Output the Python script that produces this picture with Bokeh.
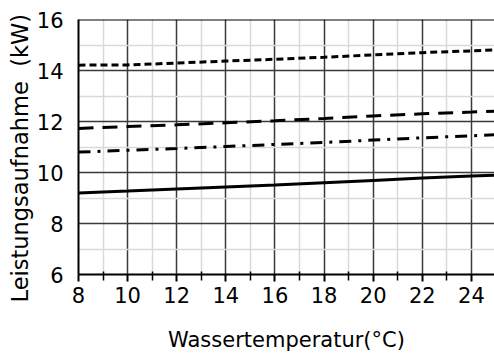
from bokeh.plotting import figure
from bokeh.models import FixedTicker, Span, Range1d, Title
from bokeh.embed import file_html
from bokeh.resources import INLINE

# ---- data ----
water_temp = [8, 10, 12, 14, 16, 18, 20, 22, 24, 25]
power_dotted = [14.21, 14.22, 14.29, 14.37, 14.44, 14.52, 14.61, 14.70, 14.77, 14.81]
power_dashed = [11.73, 11.80, 11.87, 11.95, 12.03, 12.12, 12.22, 12.30, 12.37, 12.41]
power_dashdot = [10.80, 10.87, 10.94, 11.02, 11.10, 11.18, 11.27, 11.36, 11.44, 11.48]
power_solid = [9.20, 9.27, 9.35, 9.43, 9.51, 9.60, 9.69, 9.78, 9.86, 9.90]

x_major = [8, 10, 12, 14, 16, 18, 20, 22, 24]
x_minor = [9, 11, 13, 15, 17, 19, 21, 23, 25]
y_major = [6, 8, 10, 12, 14, 16]
y_minor = [7, 9, 11, 13, 15]

x_title = "Wassertemperatur(°C)"
y_title = "Leistungsaufnahme \u00a0(kW)"

FONT = "DejaVu Sans"

p = figure(width=494, height=358, output_backend="svg", toolbar_location=None,
           x_range=Range1d(8, 24.94), y_range=Range1d(6, 16),
           min_border_left=78, min_border_right=0, min_border_top=19, min_border_bottom=84)
p.outline_line_color = None
p.background_fill_color = "white"
p.border_fill_color = "white"

# axes
p.xaxis.ticker = FixedTicker(ticks=x_major, minor_ticks=x_minor)
p.yaxis.ticker = FixedTicker(ticks=y_major, minor_ticks=y_minor)
p.xgrid.ticker = p.xaxis.ticker
p.ygrid.ticker = p.yaxis.ticker

for g in (p.xgrid, p.ygrid):
    g.grid_line_color = "#3a3a3a"
    g.grid_line_width = 1.5
    g.minor_grid_line_color = "#d9d9d9"
    g.minor_grid_line_width = 1.5

ax = p.xaxis[0]
ax.axis_line_color = "black"
ax.axis_line_width = 2
ax.major_tick_line_color = "black"
ax.major_tick_line_width = 2
ax.major_tick_in = 0
ax.major_tick_out = 7
ax.minor_tick_line_color = "black"
ax.minor_tick_line_width = 1.5
ax.minor_tick_in = 3
ax.minor_tick_out = 6
ax.major_label_text_font = FONT
ax.major_label_text_font_size = "21px"
ax.major_label_text_color = "black"
ax.major_label_standoff = 5
ax.axis_label = x_title
ax.axis_label_text_font = FONT
ax.axis_label_text_font_size = "21px"
ax.axis_label_text_font_style = "normal"
ax.axis_label_text_color = "black"
ax.axis_label_standoff = 22

ay = p.yaxis[0]
ay.axis_line_color = "black"
ay.axis_line_width = 2
ay.major_tick_line_color = None
ay.minor_tick_line_color = None
ay.major_tick_in = 0
ay.major_tick_out = 0
ay.major_label_text_font = FONT
ay.major_label_text_font_size = "21px"
ay.major_label_text_color = "black"
ay.major_label_standoff = 11

# y axis title as a left-side title, shifted down like in the reference
p.add_layout(Title(text=y_title, align="left", offset=-28, standoff=2,
                   text_font=FONT, text_font_size="22.5px", text_font_style="normal",
                   text_color="black"), "left")

# top border of the plot area
p.add_layout(Span(location=16, dimension="width", line_color="black", line_width=2))

# series
p.line(water_temp, power_dotted, line_color="black", line_width=3, line_dash="7 4")
p.line(water_temp, power_dashed, line_color="black", line_width=3, line_dash="15 9")
p.line(water_temp, power_dashdot, line_color="black", line_width=3, line_dash="12 7 3 7")
p.line(water_temp, power_solid, line_color="black", line_width=3)

open("out.html", "w").write(file_html(p, INLINE))
